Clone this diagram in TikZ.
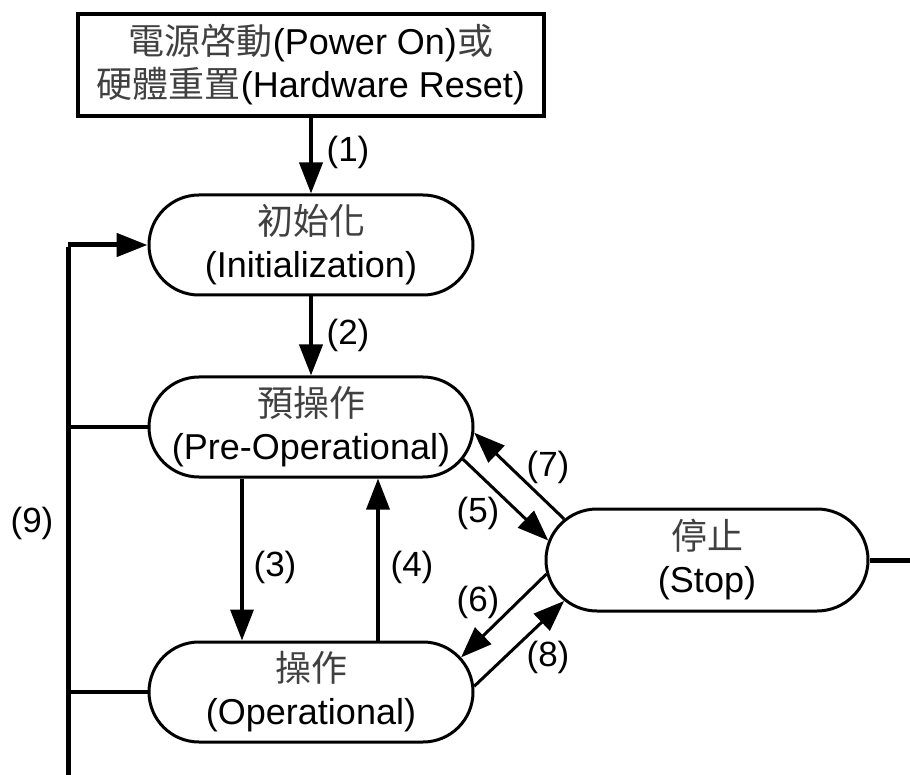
\documentclass[tikz,border=0pt]{standalone}
\usepackage{fontspec}
\setmainfont{Liberation Sans}
\newfontfamily\cjk{Noto Sans CJK TC}
\usetikzlibrary{arrows.meta,shapes.misc}
\begin{document}
\begin{tikzpicture}[x=1pt,y=-1pt,
  state/.style={draw, line width=3pt, rounded rectangle, minimum width=324pt, minimum height=100pt,
    align=center, inner sep=0pt, font=\fontsize{36}{43}\selectfont},
  startbox/.style={draw, line width=4.5pt, minimum width=466pt, minimum height=102pt,
    align=center, inner sep=0pt, font=\fontsize{36}{43}\selectfont},
  lbl/.style={font=\fontsize{35}{42}\selectfont, inner sep=0pt},
  tip/.style={-{Triangle[length=31pt,width=23pt]}},
  arrA/.style={tip, line width=4pt},
  arrB/.style={tip, line width=3.5pt},
  arrC/.style={tip, line width=3pt},
  busline/.style={line width=5pt},
  tapline/.style={line width=4pt},
]
\useasboundingbox (0,0) rectangle (910,775);
\newcommand{\zh}[1]{{\cjk\color{black!75}#1}}

\node[startbox] (top) at (311,65) {\zh{電源啓動}(Power On)\zh{或}\\\zh{硬體重置}(Hardware Reset)};
\node[state] (init) at (311,245) {\zh{初始化}\\(Initialization)};
\node[state] (pre) at (311,427) {\zh{預操作}\\(Pre-Operational)};
\node[state] (op) at (311,692) {\zh{操作}\\(Operational)};
\node[state, minimum width=322pt, minimum height=102pt] (stop) at (707,560) {\zh{停止}\\(Stop)};

\coordinate (x3) at (242,0);
\coordinate (x4) at (378,0);
\coordinate (bustop) at (68,245);
\coordinate (busbot) at (68,775);
\coordinate (rightend) at (910,560);

% main arrows
\draw[arrA] (top.south) -- (init.north);
\draw[arrA] (init.south) -- (pre.north);
\draw[arrB] (pre.south -| x3) -- (op.north -| x3);
\draw[arrB] (op.north -| x4) -- (pre.south -| x4);
\draw[arrC] (pre.-12) -- (stop.173);
\draw[arrC] (stop.164) -- (pre.-2);
\draw[arrC] (stop.185) -- (op.13);
\draw[arrC] (op.2) -- (stop.196);

% (9) bus
\draw[busline] (busbot) -- ([yshift=-2.5pt]bustop);
\draw[busline, tip] (bustop) -- (init.west);
\draw[tapline] (pre.west) -- (pre.west -| bustop);
\draw[tapline] (op.west) -- (op.west -| bustop);
\draw[busline] (stop.east) -- (rightend);

% labels
\node[lbl] (l1) at (348,152) {(1)};
\node[lbl] (l2) at (348,335) {(2)};
\node[lbl] (l3) at (275,567) {(3)};
\node[lbl] (l4) at (412,567) {(4)};
\node[lbl] (l5) at (478,513) {(5)};
\node[lbl] (l6) at (478,602) {(6)};
\node[lbl] (l7) at (548,467) {(7)};
\node[lbl] (l8) at (548,657) {(8)};
\node[lbl] (l9) at (32,523) {(9)};
\end{tikzpicture}
\end{document}
